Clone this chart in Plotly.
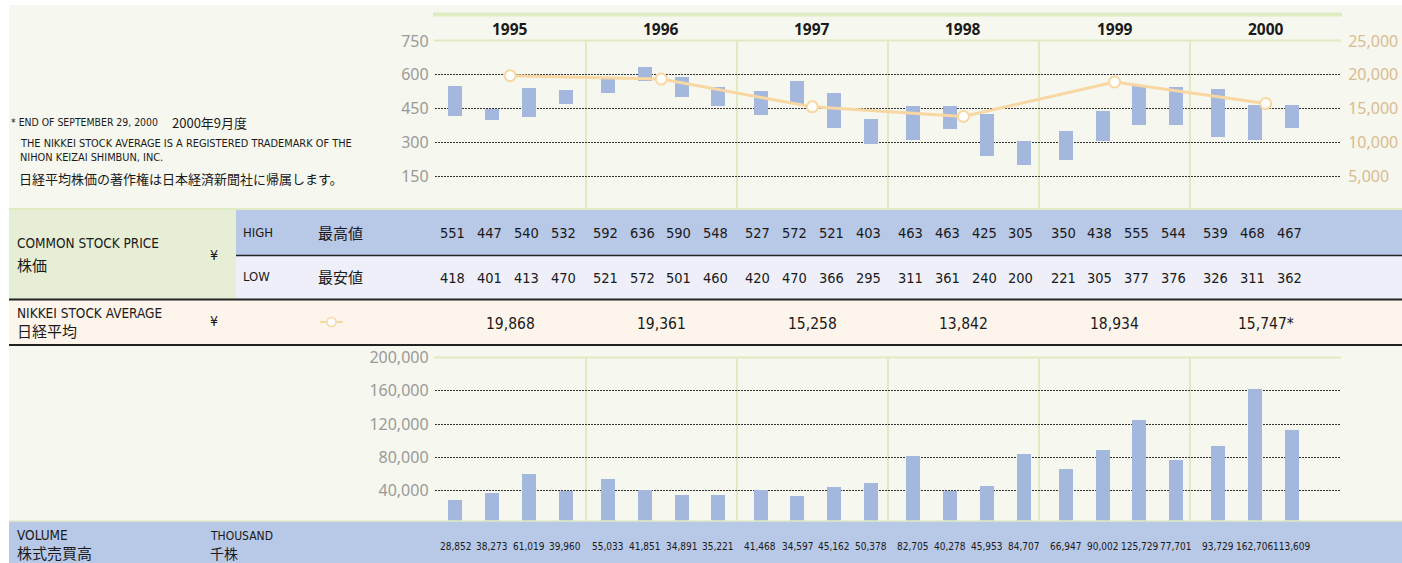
import plotly.graph_objects as go

W, H = 1402, 563

# data
years = ["1995", "1996", "1997", "1998", "1999", "2000"]
quarters_per_year = [4, 4, 4, 4, 4, 3]
price_high = [551, 447, 540, 532, 592, 636, 590, 548, 527, 572, 521, 403,
              463, 463, 425, 305, 350, 438, 555, 544, 539, 468, 467]
price_low = [418, 401, 413, 470, 521, 572, 501, 460, 420, 470, 366, 295,
             311, 361, 240, 200, 221, 305, 377, 376, 326, 311, 362]
nikkei = [19868, 19361, 15258, 13842, 18934, 15747]
nikkei_text = ["19,868", "19,361", "15,258", "13,842", "18,934", "15,747*"]
volume = [28852, 38273, 61019, 39960, 55033, 41851, 34891, 35221, 41468, 34597, 45162, 50378,
          82705, 40278, 45953, 84707, 66947, 90002, 125729, 77701, 93729, 162706, 113609]
price_ticks = [150, 300, 450, 600, 750]
nikkei_ticks = [5000, 10000, 15000, 20000, 25000]
volume_ticks = [40000, 80000, 120000, 160000, 200000]

# colours / fonts
CREAM = "#F6F7EE"
GREEN_LINE = "#E0EBC4"
BAR = "#A4B8DE"
ROW_BLUE = "#B8C8E7"
ROW_LAV = "#EEEFF9"
ROW_PEACH = "#FDF4EB"
ROW_GREEN = "#E6EFD5"
ORANGE = "#F9D7A2"
DARK = "#222222"
NARROW = "Liberation Sans Narrow, DejaVu Sans Condensed, sans-serif"
CJK = "Noto Sans CJK JP, sans-serif"
SANS = "Noto Sans, sans-serif"


def px(x):
    return x / W


def py(y):
    return 1 - y / H


# quarter positions inside each year (year i spans x = i .. i+1)
bar_x = []
for yi, n in enumerate(quarters_per_year):
    for q in range(n):
        bar_x.append(yi * 1.01 + 0.135 + 0.2435 * q)
year_x = [yi + 0.5 for yi in range(len(years))]
BAR_W = 0.0925

fig = go.Figure()

fig.add_trace(go.Bar(x=bar_x, y=[h - l for h, l in zip(price_high, price_low)], base=price_low,
                     width=BAR_W, marker=dict(color=BAR, line=dict(width=0)),
                     xaxis="x", yaxis="y", showlegend=False))
fig.add_trace(go.Scatter(x=year_x, y=nikkei, mode="lines+markers",
                         line=dict(color=ORANGE, width=3),
                         marker=dict(size=11, color="white", line=dict(color=ORANGE, width=2)),
                         xaxis="x", yaxis="y2", showlegend=False))
fig.add_trace(go.Bar(x=bar_x, y=volume, width=BAR_W, marker=dict(color=BAR, line=dict(width=0)),
                     xaxis="x2", yaxis="y3", showlegend=False))

x_dom = [px(434.6), px(1341.2)]
xaxis_common = dict(domain=x_dom, range=[0, 6], tickvals=[1, 2, 3, 4, 5], showticklabels=False,
                    showgrid=True, gridcolor=GREEN_LINE, gridwidth=2, zeroline=False,
                    showline=False, ticks="", fixedrange=True, automargin=False)
grid_common = dict(showgrid=True, gridcolor="#333333", gridwidth=1, griddash="2px,1px",
                   zeroline=False, showline=False, ticks="", ticklabelstandoff=5,
                   automargin=False)

fig.update_layout(
    width=W, height=H,
    margin=dict(l=0, r=0, t=0, b=0, pad=0),
    paper_bgcolor="white", plot_bgcolor="white",
    bargap=0, showlegend=False,
    xaxis=dict(anchor="y", **xaxis_common),
    xaxis2=dict(anchor="y3", matches="x", **xaxis_common),
    yaxis=dict(domain=[py(210), py(41)], range=[0, 750], tickvals=price_ticks,
               tickfont=dict(family=SANS, size=16, color="#9A9A9A"), **grid_common),
    yaxis2=dict(overlaying="y", side="right", range=[0, 25000], tickvals=nikkei_ticks,
                tickformat=",d", showgrid=False, zeroline=False, showline=False, ticks="",
                ticklabelstandoff=6, automargin=False,
                tickfont=dict(family=SANS, size=16, color="#D9BC92")),
    yaxis3=dict(domain=[py(524), py(357.5)], range=[0, 200000], tickvals=volume_ticks,
                tickformat=",d", tickfont=dict(family=SANS, size=16, color="#9A9A9A"),
                **grid_common),
)

shapes = []


def rect(x0, y0, x1, y1, color, layer="below"):
    shapes.append(dict(type="rect", xref="paper", yref="paper", x0=px(x0), x1=px(x1),
                       y0=py(y1), y1=py(y0), fillcolor=color, line=dict(width=0), layer=layer))


def hline(x0, x1, y, color, width, layer="above"):
    shapes.append(dict(type="line", xref="paper", yref="paper", x0=px(x0), x1=px(x1),
                       y0=py(y), y1=py(y), line=dict(color=color, width=width), layer=layer))


# background panel
rect(9, 5, W, 521, CREAM)
# decorative bar above the years
hline(433, 1342, 14.5, GREEN_LINE, 4)
# plot top borders
hline(434, 1341, 40.5, GREEN_LINE, 2)
hline(434, 1341, 357.5, GREEN_LINE, 2)

# table rows
rect(9, 209, 236, 299, ROW_GREEN, "above")
rect(236, 209, W, 255, ROW_BLUE, "above")
rect(236, 255, W, 299, ROW_LAV, "above")
rect(9, 299, W, 345, ROW_PEACH, "above")
hline(9, W, 209, GREEN_LINE, 2)
hline(236, W, 255.5, DARK, 1.5)
hline(9, W, 299.5, DARK, 2)
hline(9, W, 345, DARK, 2)
# volume footer
rect(9, 521, W, H, ROW_BLUE, "above")
hline(9, W, 521, GREEN_LINE, 1.5)

# nikkei legend glyph
hline(320, 343, 322, ORANGE, 2)
shapes.append(dict(type="circle", xref="paper", yref="paper", x0=px(327), x1=px(336),
                   y0=py(326.5), y1=py(317.5), fillcolor="white",
                   line=dict(color=ORANGE, width=1.5), layer="above"))

fig.update_layout(shapes=shapes)

ann = []


def note(text, x, y, size, family=NARROW, color="#1A1A1A", xanchor="left", xref="paper", bold=False):
    if bold:
        text = "<b>" + text + "</b>"
    ann.append(dict(text=text, x=px(x) if xref == "paper" else x, y=py(y), xref=xref, yref="paper",
                    xanchor=xanchor, yanchor="middle", showarrow=False,
                    font=dict(family=family, size=size, color=color)))


# notes at the top left
note("* END OF SEPTEMBER 29, 2000", 9, 122, 10.4)
note("2000年9月度", 170, 122, 13, CJK)
note("THE NIKKEI STOCK AVERAGE IS A REGISTERED TRADEMARK OF THE", 18, 143, 10.9)
note("NIHON KEIZAI SHIMBUN, INC.", 18, 157, 10.9)
note("日経平均株価の著作権は日本経済新聞社に帰属します。", 17, 178, 13, CJK)

# year labels
for xv, yr in zip(year_x, years):
    note(yr, xv, 29, 15.5, SANS, "#1A1A1A", "center", "x", bold=True)

# stock price rows
note("COMMON STOCK PRICE", 15, 243, 13.5)
note("株価", 15, 264, 15, CJK)
note("¥", 208, 255, 14)
note("HIGH", 241, 232, 13)
note("最高値", 316, 232, 15, CJK)
note("LOW", 241, 277, 13)
note("最安値", 316, 277, 15, CJK)
for xv, hv, lv in zip(bar_x, price_high, price_low):
    note(str(hv), xv - 0.015, 233, 14.5, NARROW, "#1A1A1A", "center", "x")
    note(str(lv), xv - 0.015, 278, 14.5, NARROW, "#1A1A1A", "center", "x")

# nikkei row
note("NIKKEI STOCK AVERAGE", 15, 313, 13.5)
note("日経平均", 15, 330, 15, CJK)
note("¥", 208, 321, 14)
for xv, t in zip(year_x, nikkei_text):
    note(t, xv, 324, 15.5, NARROW, "#1A1A1A", "center", "x")

# volume footer
note("VOLUME", 15, 535, 13.5)
note("株式売買高", 15, 552, 15, CJK)
note("THOUSAND", 208, 536, 12)
note("千株", 208, 553, 14, CJK)
for xv, v in zip(bar_x, volume):
    note(f"{v:,}", xv, 546, 10, NARROW, "#1A1A1A", "center", "x")

fig.update_layout(annotations=ann)

fig.write_html("out.html", config={"displayModeBar": False},
               post_script="document.body.style.margin='0';"
                           "document.documentElement.style.margin='0';")
